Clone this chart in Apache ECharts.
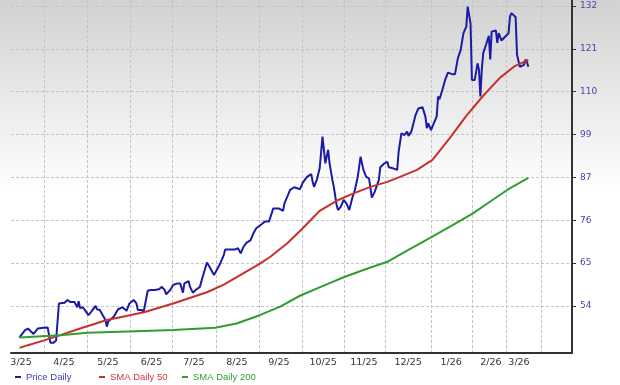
<!DOCTYPE html>
<html><head><meta charset="utf-8">
<script src="https://cdn.jsdelivr.net/npm/echarts@6/dist/echarts.min.js"></script>
<style>html,body{margin:0;padding:0;background:#fff}#c{width:620px;height:385px}</style>
</head><body><div id="c"></div>
<script>
// x values: calendar days since 2025-03-08
const priceDays = [6,10,12,16,19,23,26,27,28,30,32,34,38,40,42,45,47,48,49,51,55,57,60,61,63,67,68,69,73,76,79,82,84,87,89,90,93,94,95,97,99,102,105,107,109,110,113,115,118,120,122,123,126,127,129,131,134,136,139,141,144,145,148,151,152,155,159,161,163,165,167,170,172,174,178,180,183,185,186,190,193,194,197,198,201,205,207,210,213,214,215,217,219,221,223,225,226,228,229,231,232,234,236,238,240,242,244,246,248,250,252,254,256,258,261,262,265,267,268,271,274,275,277,279,281,282,284,287,289,292,294,295,296,298,300,302,303,304,306,308,310,313,315,317,319,321,323,324,326,327,329,330,331,332,333,334,335,337,339,340,341,342,344,345,346,348,350,353,354,355,358,359,360,361,362,364,365,366,367];
const priceValues = [46.0,47.9,48.3,46.9,48.3,48.5,48.6,48.8,44.6,44.6,45.2,54.8,55.0,55.7,55.2,55.2,53.8,55.4,53.6,53.8,51.8,52.7,54.2,53.3,53.1,50.5,48.8,50.1,51.4,53.3,53.8,52.9,54.8,55.7,54.8,53.1,53.1,52.4,52.3,58.1,58.3,58.3,58.5,59.1,58.3,57.2,58.3,59.6,60.0,60.0,57.6,60.0,60.6,59.1,57.6,58.3,59.1,61.7,65.4,64.2,62.2,61.9,64.8,67.4,68.8,68.8,68.8,69.1,67.8,69.5,70.5,71.2,73.0,74.3,75.4,76.0,76.0,78.2,79.4,79.4,78.8,80.7,83.3,84.2,84.9,84.4,86.1,87.6,88.3,86.3,85.0,86.9,89.8,98.0,91.1,94.6,91.1,86.8,85.0,80.3,79.0,79.9,81.6,80.7,79.0,82.0,84.2,87.6,92.8,89.4,87.6,87.2,82.2,83.7,86.8,90.1,91.1,91.5,90.1,89.8,89.4,94.1,98.9,98.4,99.3,98.2,99.3,103.6,105.3,105.6,103.2,100.2,101.5,99.7,101.5,103.2,108.4,107.7,110.1,112.7,114.6,114.2,114.2,118.3,120.4,124.8,126.5,131.7,127.4,112.7,112.7,112.2,117.0,115.3,108.4,115.3,119.6,121.8,124.1,118.0,125.2,125.6,125.5,122.3,124.8,122.9,123.7,124.8,129.1,130.0,129.0,119.2,119.4,116.1,116.1,116.6,118.0,117.4,116.1];
const sma50Days = [6,12,24,35,49,68,81,95,115,139,151,162,176,184,196,207,219,231,243,255,267,276,288,299,311,323,335,347,357,367];
const sma50Values = [43.3,44.0,45.3,46.6,48.3,50.5,51.5,52.6,54.8,57.7,59.7,62.0,65.0,66.9,70.4,74.3,78.8,81.4,83.3,85.0,86.3,87.6,89.4,92.0,97.5,103.4,108.6,113.3,116.2,117.9];
const sma200Days = [6,35,54,94,115,145,160,176,191,205,221,236,251,267,281,297,313,328,340,352,367];
const sma200Values = [46.0,46.6,47.2,47.7,47.9,48.5,49.6,51.7,54.0,56.8,59.3,61.6,63.6,65.6,68.5,71.7,75.0,78.2,81.2,84.2,87.3];

const xGridDays = [23.6,54.4,84.4,114.7,145.4,176.2,206.5,236.3,265.6,297.8,327.1,351.7,376.5];
const xLabelDays = [7.1,37.6,68.8,99.7,129.8,160.3,190.1,221.4,250.4,281.7,312.2,340.5,360.4];
const xLabelTexts = ['3/25','4/25','5/25','6/25','7/25','8/25','9/25','10/25','11/25','12/25','1/26','2/26','3/26'];
const yTickValues = [54.15,65.25,76.35,87.45,98.55,109.65,120.75,131.85];
const yTickLabels = ['54','65','76','87','99','110','121','132'];

function pairs(d, v) { return d.map((x, i) => [x, v[i]]); }
function lookup(vals, texts, v) {
  let best = 0, bd = Infinity;
  vals.forEach((t, i) => { const dd = Math.abs(t - v); if (dd < bd) { bd = dd; best = i; } });
  return texts[best];
}

const chart = echarts.init(document.getElementById('c'), null, { renderer: 'canvas' });
const legendBase = { top: 371, icon: 'rect', itemWidth: 6, itemHeight: 2, padding: 0, itemGap: 0, selectedMode: false };
chart.setOption({
  animation: false,
  backgroundColor: new echarts.graphic.LinearGradient(0, 0, 0, 1, [
    { offset: 0, color: '#d2d2d2' }, { offset: 0.5, color: '#ffffff' }, { offset: 1, color: '#ffffff' }
  ]),
  grid: { left: 11, right: 48, top: 0, bottom: 32.3, containLabel: false, outerBoundsMode: 'none' },
  xAxis: {
    type: 'value', min: 0, max: 398,
    axisLine: { show: true, onZero: false, lineStyle: { color: '#333', width: 2 } },
    axisTick: { show: false, customValues: xGridDays },
    splitLine: { show: true, lineStyle: { color: '#c4c4c4', width: 1, type: [3, 2] } },
    axisLabel: { customValues: xLabelDays, formatter: v => lookup(xLabelDays, xLabelTexts, v),
      margin: 5, color: '#333', fontFamily: 'DejaVu Sans', fontSize: 9.5 }
  },
  yAxis: {
    type: 'value', position: 'right', min: 42.05, max: 133.4,
    axisLine: { show: true, onZero: false, lineStyle: { color: '#333', width: 2 } },
    axisTick: { show: true, length: 4, customValues: yTickValues, lineStyle: { color: '#333', width: 1 } },
    splitLine: { show: true, lineStyle: { color: '#c4c4c4', width: 1, type: [3, 2] } },
    axisLabel: { customValues: yTickValues, formatter: v => lookup(yTickValues, yTickLabels, v),
      margin: 8, color: '#4646a8', fontFamily: 'DejaVu Sans', fontSize: 9 }
  },
  legend: [
    Object.assign({ data: ['Price Daily'], left: 15, textStyle: { color: '#3c3cb8', fontFamily: 'Liberation Sans', fontSize: 9.5, lineHeight: 12 } }, legendBase),
    Object.assign({ data: ['SMA Daily 50'], left: 99, textStyle: { color: '#d03a3a', fontFamily: 'Liberation Sans', fontSize: 9.5, lineHeight: 12 } }, legendBase),
    Object.assign({ data: ['SMA Daily 200'], left: 182, textStyle: { color: '#2f9e2f', fontFamily: 'Liberation Sans', fontSize: 9.5, lineHeight: 12 } }, legendBase)
  ],
  series: [
    { name: 'Price Daily', type: 'line', data: pairs(priceDays, priceValues), showSymbol: false, color: '#1b1ba6',
      lineStyle: { width: 2, color: '#1b1ba6' }, z: 2 },
    { name: 'SMA Daily 50', type: 'line', data: pairs(sma50Days, sma50Values), showSymbol: false, color: '#c8302c',
      lineStyle: { width: 2, color: '#c8302c' }, z: 3 },
    { name: 'SMA Daily 200', type: 'line', data: pairs(sma200Days, sma200Values), showSymbol: false, color: '#2e9e2e',
      lineStyle: { width: 2, color: '#2e9e2e' }, z: 3 }
  ]
});
</script></body></html>
